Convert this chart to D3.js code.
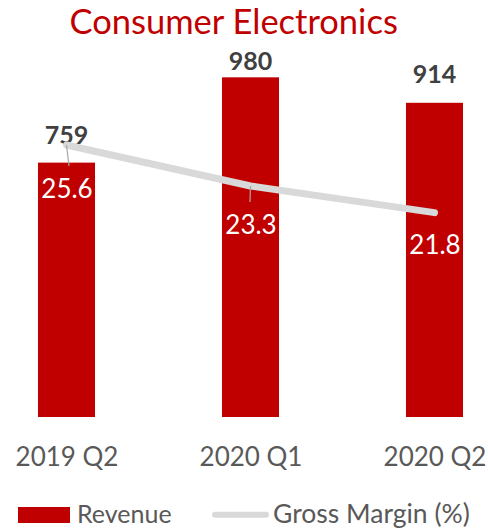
<!DOCTYPE html>
<html>
<head>
<meta charset="utf-8">
<script src="https://cdn.jsdelivr.net/npm/d3@7"></script>
<style>
  html, body { margin: 0; padding: 0; background: #fff; }
  svg { display: block; font-family: Lato, "Open Sans", sans-serif; }
</style>
</head>
<body>
<script>
// Quarterly figures for the Consumer Electronics segment
const categories = ["2019 Q2", "2020 Q1", "2020 Q2"];
const revenue = [759, 980, 914];
const grossMargin = [25.6, 23.3, 21.8];
const seriesNames = ["Revenue", "Gross Margin (%)"];
const title = "Consumer Electronics";

// Label placement tweaks (pixels relative to the mark)
const revenueLabelGap = [19, 7, 20];
const marginLabelDrop = [53, 48, 41.5];

const W = 488, H = 531;
const red = "#C00000", grey = "#D9D9D9";

const svg = d3.select("body").append("svg")
  .attr("width", W).attr("height", H);

const x = d3.scaleBand()
  .domain(categories)
  .range([-25.5, 526.5])
  .paddingInner(0.69)
  .paddingOuter(0.345);

const yRev = d3.scaleLinear().domain([100, 1200]).range([417, -7.6]);
const yGM = d3.scaleLinear().domain([0, 30]).range([600.7, 66.7]);

const cx = d => x(d) + x.bandwidth() / 2;

// Title
svg.append("text")
  .attr("x", 233.7).attr("y", 34.3)
  .attr("text-anchor", "middle")
  .attr("fill", red)
  .attr("font-size", 34.5)
  .text(title);

// Revenue bars
svg.append("g").selectAll("rect")
  .data(categories)
  .join("rect")
  .attr("x", d => x(d))
  .attr("width", x.bandwidth())
  .attr("y", (d, i) => yRev(revenue[i]))
  .attr("height", (d, i) => yRev.range()[0] - yRev(revenue[i]))
  .attr("fill", red);

// Revenue value labels
svg.append("g").selectAll("text")
  .data(categories)
  .join("text")
  .attr("x", d => cx(d))
  .attr("y", (d, i) => yRev(revenue[i]) - revenueLabelGap[i])
  .attr("text-anchor", "middle")
  .attr("font-weight", "bold")
  .attr("font-size", 25)
  .attr("fill", "#404040")
  .text((d, i) => revenue[i]);

// Gross margin line
const line = d3.line()
  .x((d, i) => cx(categories[i]))
  .y(d => yGM(d));

svg.append("path")
  .datum(grossMargin)
  .attr("d", line)
  .attr("fill", "none")
  .attr("stroke", grey)
  .attr("stroke-width", 7)
  .attr("stroke-linecap", "round")
  .attr("stroke-linejoin", "round");

// Leader lines from points to their labels (only where the label sits far off)
svg.append("g").selectAll("line")
  .data(categories)
  .join("line")
  .filter((d, i) => marginLabelDrop[i] > 45)
  .attr("x1", d => cx(d))
  .attr("y1", d => yGM(grossMargin[categories.indexOf(d)]))
  .attr("x2", (d, i) => cx(d) + (i === 0 ? 2.5 : -0.5))
  .attr("y2", d => {
    const i = categories.indexOf(d);
    return yGM(grossMargin[i]) + marginLabelDrop[i] - 19 - 13;
  })
  .attr("stroke", "#A6A6A6")
  .attr("stroke-width", 1.2);

// Gross margin value labels
svg.append("g").selectAll("text")
  .data(categories)
  .join("text")
  .attr("x", d => cx(d) + 0.5)
  .attr("y", (d, i) => yGM(grossMargin[i]) + marginLabelDrop[i])
  .attr("text-anchor", "middle")
  .attr("font-size", 26)
  .attr("fill", "#fff")
  .text((d, i) => grossMargin[i].toFixed(1));

// Category axis labels
svg.append("g").selectAll("text")
  .data(categories)
  .join("text")
  .attr("x", d => cx(d) + 0.5)
  .attr("y", 466)
  .attr("text-anchor", "middle")
  .attr("font-size", 26)
  .attr("fill", "#595959")
  .text(d => d);

// Legend
const lg = svg.append("g");
lg.append("rect")
  .attr("x", 18).attr("y", 507).attr("width", 52).attr("height", 16)
  .attr("fill", red);
lg.append("text")
  .attr("x", 77).attr("y", 523)
  .attr("font-size", 25).attr("fill", "#595959")
  .text(seriesNames[0]);
lg.append("line")
  .attr("x1", 215).attr("x2", 266).attr("y1", 514.7).attr("y2", 514.7)
  .attr("stroke", grey).attr("stroke-width", 6).attr("stroke-linecap", "round");
lg.append("text")
  .attr("x", 273).attr("y", 523)
  .attr("font-size", 26.5).attr("fill", "#595959")
  .text(seriesNames[1]);
</script>
</body>
</html>
